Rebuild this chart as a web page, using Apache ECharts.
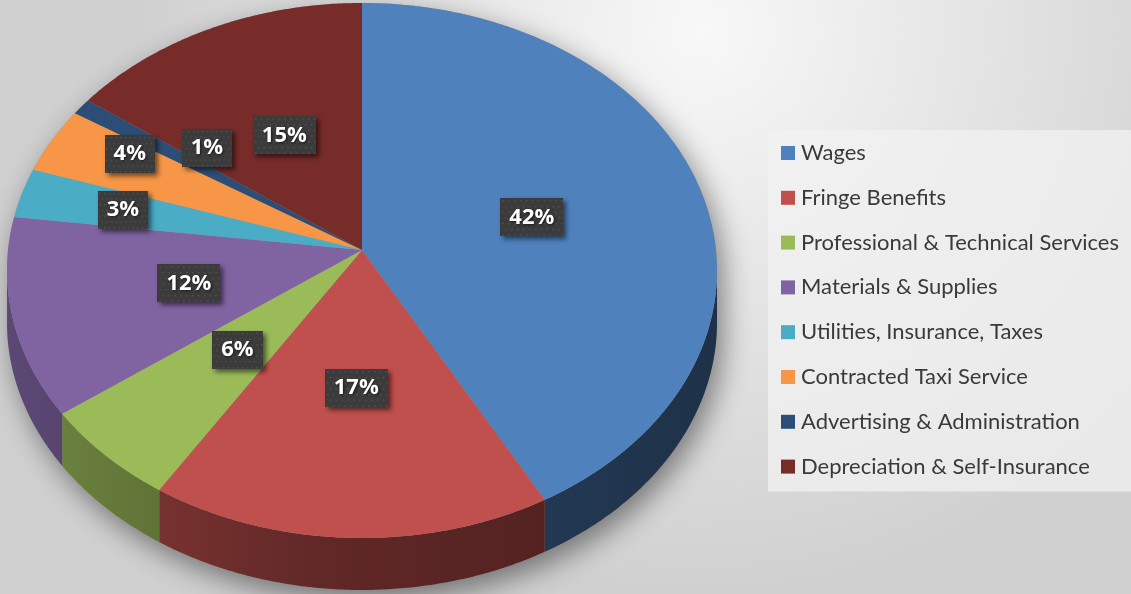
<!DOCTYPE html>
<html>
<head>
<meta charset="utf-8">
<style>
    html, body { margin: 0; padding: 0; }
    #chart { width: 1131px; height: 594px; }
</style>
<script src="https://cdn.jsdelivr.net/npm/echarts@6/dist/echarts.min.js"></script>
</head>
<body>
<div id="chart"></div>
<script>
var categories = ['Wages', 'Fringe Benefits', 'Professional & Technical Services', 'Materials & Supplies',
    'Utilities, Insurance, Taxes', 'Contracted Taxi Service', 'Advertising & Administration', 'Depreciation & Self-Insurance'];
var shares = [42, 17, 6, 12, 3, 4, 1, 15];
var colors = ['#4f81bd', '#c0504d', '#9bbb59', '#8064a2', '#4bacc6', '#f79646', '#2c4d75', '#772c2a'];

// where the labels sit: fraction of the radius and a small turn (deg), like excel's best fit
var labelRadius = [0.5, 0.5, 0.5, 0.5, 0.7, 0.77, 0.6, 0.5];
var labelTurn = [0, 0, 0, 0, 0, 3.6, 7, 0];

// 3d pie geometry (pixels)
var CX = 362, CY = 270.5, RX = 355, RY = 267.5, TILT = -0.0766, DEPTH = 52;
var FRONT0 = Math.acos(TILT) * 180 / Math.PI;

var total = 0, starts = [];
for (var i = 0; i < shares.length; i++) {
    starts.push(total);
    total += shares[i];
}
for (var i = 0; i < starts.length; i++) starts[i] = starts[i] / total * 360;

// angle clockwise from 12 o'clock -> screen point, with a bit of perspective
function proj(deg, r) {
    var t = deg * Math.PI / 180;
    var ux = r * Math.sin(t), uy = -r * Math.cos(t);
    var d = 1 + TILT * uy;
    var X = ux * Math.sqrt(1 - TILT * TILT) / d;
    var Y = (uy + TILT) / d;
    return [CX + RX * X, CY + RY * Y];
}

function arc(a, b) {
    var pts = [];
    var n = Math.max(2, Math.ceil((b - a) / 0.5));
    for (var j = 0; j <= n; j++) pts.push(proj(a + (b - a) * j / n, 1));
    return pts;
}

function shade(hex, f) {
    var c = echarts.color.parse(hex);
    return 'rgb(' + Math.round(c[0] * f) + ',' + Math.round(c[1] * f) + ',' + Math.round(c[2] * f) + ')';
}

function silhouette() {
    var pts = [];
    for (var d = 0; d <= 360; d += 1) {
        if (d > FRONT0 && d < 360 - FRONT0) {
            var p = proj(d, 1);
            pts.push([p[0], p[1] + DEPTH]);
        } else {
            pts.push(proj(d, 1));
        }
    }
    return {
        type: 'polygon', z2: 0,
        shape: { points: pts },
        style: { fill: '#9a9a9a', shadowBlur: 28, shadowColor: 'rgba(0,0,0,0.45)', shadowOffsetX: 6, shadowOffsetY: 10 }
    };
}

// dotted dark texture for the label boxes
var dots = document.createElement('canvas');
dots.width = 64; dots.height = 40;
(function() {
    var ctx = dots.getContext('2d');
    ctx.fillStyle = '#3b3b3b';
    ctx.fillRect(0, 0, 64, 40);
    ctx.fillStyle = '#555555';
    for (var y = 2; y < 40; y += 6) {
        for (var x = 2 + (y % 12 === 2 ? 0 : 3); x < 64; x += 6) {
            ctx.fillRect(x, y, 1.5, 1.5);
        }
    }
})();

function renderSlice(idx) {
    return function(params, api) {
        var a = starts[idx];
        var b = a + api.value(0) / total * 360;
        var color = api.visual('color');
        var children = [];
        if (idx === 0) children.push(silhouette());

        var lo = Math.max(a, FRONT0), hi = Math.min(b, 360 - FRONT0);
        if (hi > lo) {
            var top = arc(lo, hi), pts = top.slice();
            for (var j = top.length - 1; j >= 0; j--) pts.push([top[j][0], top[j][1] + DEPTH]);
            children.push({
                type: 'polygon', z2: 1,
                shape: { points: pts },
                style: {
                    fill: new echarts.graphic.LinearGradient(CX - RX, 0, CX + RX, 0, [
                        { offset: 0, color: shade(color, 0.72) },
                        { offset: 0.45, color: shade(color, 0.5) },
                        { offset: 1, color: shade(color, 0.38) }
                    ], true)
                }
            });
        }

        children.push({
            type: 'polygon', z2: 5,
            shape: { points: [proj(0, 0)].concat(arc(a, b)) },
            style: { fill: color }
        });

        var lp = proj((a + b) / 2 + labelTurn[idx], labelRadius[idx]);
        children.push({
            type: 'text', z2: 10,
            x: lp[0], y: lp[1],
            style: {
                text: Math.round(api.value(0) / total * 100) + '%',
                fill: '#ffffff',
                font: 'bold 22px "Open Sans"',
                align: 'center',
                verticalAlign: 'middle',
                backgroundColor: { image: dots },
                padding: [8, 9, 8, 9],
                shadowColor: 'rgba(0,0,0,0.55)', shadowBlur: 5, shadowOffsetX: 3, shadowOffsetY: 3,
                textShadowColor: 'rgba(0,0,0,0.6)', textShadowBlur: 3, textShadowOffsetX: 1, textShadowOffsetY: 1
            }
        });
        return { type: 'group', children: children };
    };
}

var series = [];
for (var i = 0; i < categories.length; i++) {
    series.push({
        type: 'custom',
        name: categories[i],
        coordinateSystem: 'none',
        renderItem: renderSlice(i),
        data: [{ name: categories[i], value: [shares[i]] }],
        silent: true
    });
}

var chart = echarts.init(document.getElementById('chart'));
chart.setOption({
    animation: false,
    color: colors,
    backgroundColor: new echarts.graphic.RadialGradient(0.62, 0.05, 0.95, [
        { offset: 0, color: '#f8f8f8' },
        { offset: 1, color: '#d0d0d0' }
    ]),
    legend: {
        orient: 'vertical',
        left: 768,
        top: 130,
        padding: [12, 30, 14, 13],
        itemGap: 22.8,
        itemWidth: 14,
        itemHeight: 14,
        icon: 'rect',
        selectedMode: false,
        backgroundColor: 'rgba(242,242,242,0.75)',
        data: categories,
        textStyle: { fontFamily: 'Lato', fontSize: 22, lineHeight: 20, color: '#3a3a3a', padding: [0, 0, 0, 1] }
    },
    series: series
});
</script>
</body>
</html>
